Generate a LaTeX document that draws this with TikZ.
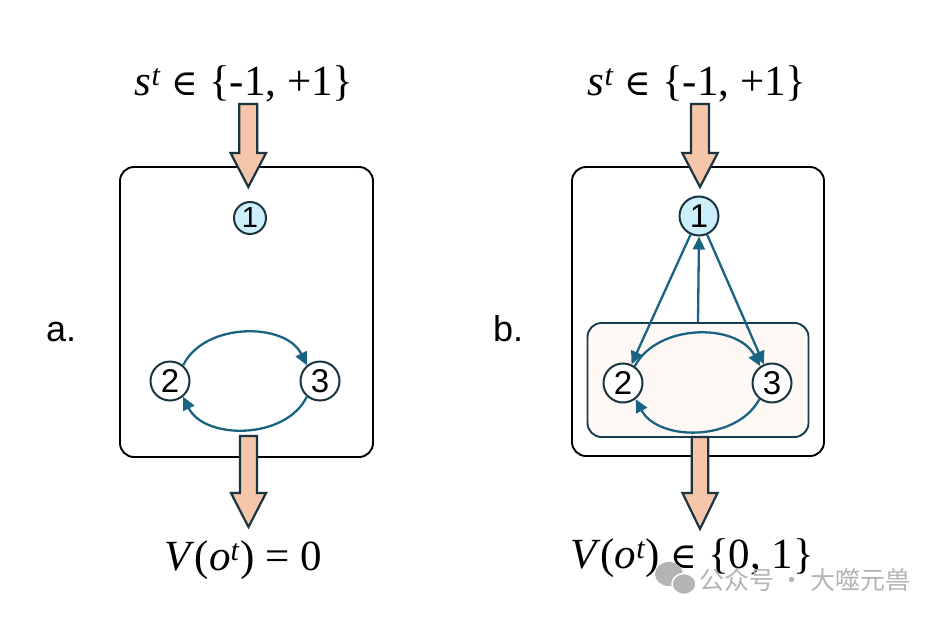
\documentclass[tikz,border=0pt]{standalone}
\usepackage{fontspec}
\setmainfont{Liberation Serif}
\newfontfamily\labelfont{Liberation Sans}
\newfontfamily\symfont{DejaVu Serif}
\newfontfamily\cjkfont{Noto Sans CJK SC}
\usetikzlibrary{arrows.meta}

\definecolor{peach}{HTML}{F5C6AA}
\definecolor{arrowedge}{HTML}{1B3540}
\definecolor{connblue}{HTML}{1B6382}
\definecolor{nodeblue}{HTML}{CDEFFB}
\definecolor{innerfill}{HTML}{FFF9F5}
\definecolor{inneredge}{HTML}{173D50}
\definecolor{wmgray}{HTML}{B4B4B4}

\newcommand{\elem}{{\symfont\fontsize{36}{36}\selectfont ∈}}

\begin{document}
\begin{tikzpicture}[x=1pt,y=1pt,
  outerbox/.style={draw=black, line width=1.9pt, rounded corners=14pt, rectangle, inner sep=0pt},
  innerbox/.style={draw=inneredge, fill=innerfill, line width=1.9pt, rounded corners=14pt, rectangle, inner sep=0pt},
  circnode/.style={circle, draw=arrowedge, line width=2pt, inner sep=0pt, fill=white,
     minimum size=39pt, font=\labelfont\fontsize{33}{33}\selectfont},
  smallcirc/.style={circnode, minimum size=32pt, font=\labelfont\fontsize{29}{29}\selectfont},
  conn/.style={draw=connblue, line width=2.3pt, -{Triangle[length=13pt,width=12pt]}},
  blockarrow/.style={fill=peach, draw=arrowedge, line width=2.2pt, line join=miter},
  eqtext/.style={anchor=base, inner sep=0pt, font=\fontsize{43}{48}\selectfont},
  paneltext/.style={anchor=base west, inner sep=0pt, font=\labelfont\fontsize{36}{36}\selectfont},
]
\useasboundingbox (0,0) rectangle (932,-616);
\fill[white] (0,0) rectangle (932,-616);

% ---------- panel a ----------
\node[outerbox, minimum width=253pt, minimum height=290pt] (boxa) at (246.5,-312) {};
\node[paneltext] (labela) at (46,-341.7) {a.};
\node[smallcirc, fill=nodeblue] (n1a) at (250,-218) {1};
\node[circnode] (n2a) at (170,-381) {2};
\node[circnode] (n3a) at (320,-381) {3};
\draw[conn] (n2a.50) to[out=64,in=116] (n3a.130);
\draw[conn] (n3a.-130) to[out=-116,in=-64] (n2a.-50);

\node[eqtext] (sa) at (244,-95) {\textit{s}\kern0.5pt\textsuperscript{\textit{t}} \elem{} \{-1, +1\}};
\node[eqtext] (va) at (243,-570) {\textit{V}(\textit{o}\textsuperscript{\textit{t}}) = 0};

\filldraw[blockarrow] (239.3,-104) -- (257.3,-104) -- (257.3,-153) -- (266,-153)
  -- (248.3,-187) -- (230.6,-153) -- (239.3,-153) -- cycle;
\filldraw[blockarrow] (240,-436) -- (257,-436) -- (257,-493) -- (266,-493)
  -- (248.5,-527) -- (231,-493) -- (240,-493) -- cycle;

% ---------- panel b ----------
\node[outerbox, minimum width=252pt, minimum height=289pt] (boxb) at (698,-311.5) {};
\node[paneltext] (labelb) at (493,-341.7) {b.};
\node[innerbox, minimum width=221pt, minimum height=114pt] (inner) at (698,-380) {};
\node[circnode, fill=nodeblue] (n1b) at (699,-216) {1};
\node[circnode] (n2b) at (623,-383) {2};
\node[circnode] (n3b) at (772,-383) {3};
\draw[conn] (n1b) -- (n2b);
\draw[conn] (n1b) -- (n3b);
\draw[conn] (inner.north) -- (n1b.south);
\draw[conn] (n2b.55) to[out=62,in=118] (n3b.125);
\draw[conn] (n3b.-128) to[out=-118,in=-62] (n2b.-52);

\node[eqtext] (sb) at (697,-95) {\textit{s}\kern0.5pt\textsuperscript{\textit{t}} \elem{} \{-1, +1\}};
\node[eqtext] (vb) at (692,-568) {\textit{V}(\textit{o}\textsuperscript{\textit{t}}) \elem{} \{0, 1\}};

\filldraw[blockarrow] (691,-104) -- (709,-104) -- (709,-153) -- (717.7,-153)
  -- (700,-187) -- (682.3,-153) -- (691,-153) -- cycle;
\filldraw[blockarrow] (691.7,-437) -- (708.3,-437) -- (708.3,-493) -- (717.5,-493)
  -- (700,-529) -- (682.5,-493) -- (691.7,-493) -- cycle;

% ---------- watermark ----------
\fill[wmgray] (669,-574) ellipse (14pt and 12pt);
\filldraw[fill=wmgray, draw=white, line width=1.5pt] (684,-584) ellipse (12pt and 10.5pt);
\node[anchor=west, inner sep=0pt, text=wmgray, font=\cjkfont\fontsize{25}{25}\selectfont]
  (wm) at (699,-580) {公众号 · 大噬元兽};
\end{tikzpicture}
\end{document}
